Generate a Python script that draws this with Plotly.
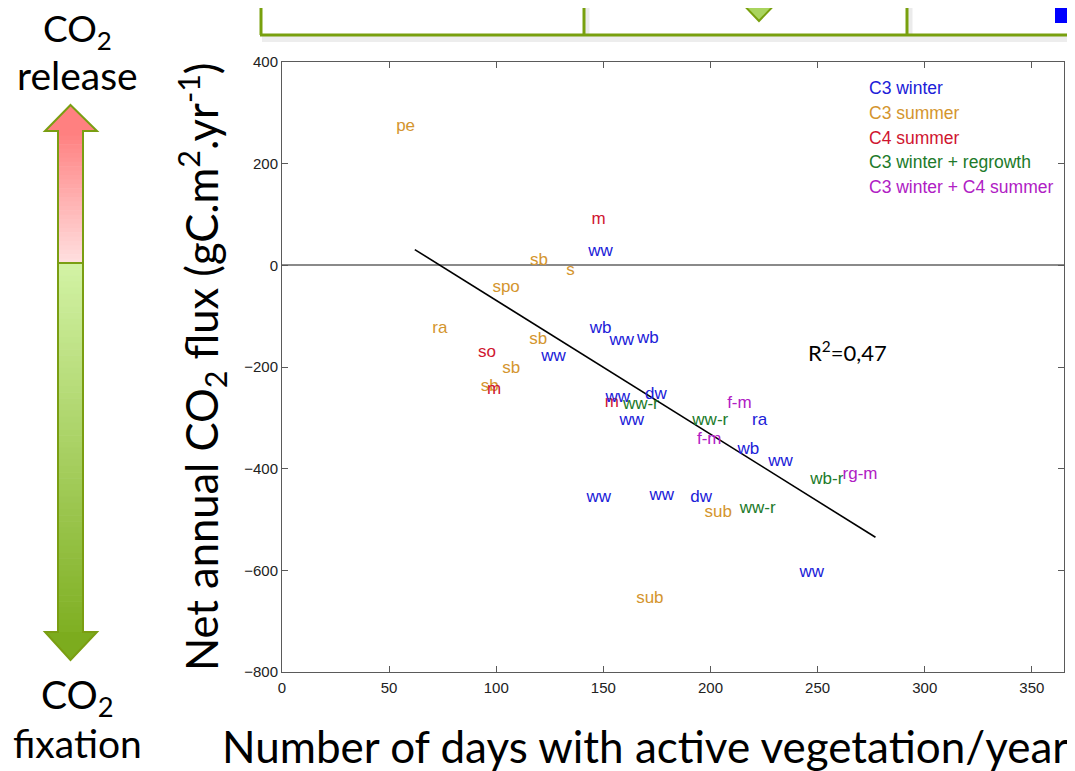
import plotly.graph_objects as go

# ---------------- data ----------------
c3w_x = [148.7, 148.7, 158.6, 170.8, 126.7, 156.7, 174.5, 163.3, 222.9, 217.7, 232.7, 147.8, 177.3, 195.6, 247.3]
c3w_y = [26, -124, -148, -144, -179, -260, -254, -305, -305, -362, -386, -458, -454, -458, -604]
c3w_lab = ["ww", "wb", "ww", "wb", "ww", "ww", "dw", "ww", "ra", "wb", "ww", "ww", "ww", "dw", "ww"]

c3s_x = [57.7, 120.0, 134.7, 104.6, 73.7, 119.6, 107.0, 97.0, 203.6, 171.7]
c3s_y = [273, 10, -10, -45, -124, -146, -203, -238, -486, -655]
c3s_lab = ["pe", "sb", "s", "spo", "ra", "sb", "sb", "sb", "sub", "sub"]

c4s_x = [147.8, 95.7, 99.0, 153.9]
c4s_y = [90, -171, -244, -271]
c4s_lab = ["m", "so", "m", "m"]

c3wr_x = [167.5, 199.9, 222.0, 254.3]
c3wr_y = [-275, -305, -478, -421]
c3wr_lab = ["ww-r", "ww-r", "ww-r", "wb-r"]

c3wc4_x = [213.5, 199.4, 269.8]
c3wc4_y = [-273, -344, -411]
c3wc4_lab = ["f-m", "f-m", "rg-m"]

reg_x = [62, 277]
reg_y = [31, -535]

x_ticks = [0, 50, 100, 150, 200, 250, 300, 350]
y_ticks = [400, 200, 0, -200, -400, -600, -800]

legend_names = ["C3 winter", "C3 summer", "C4 summer", "C3 winter + regrowth", "C3 winter + C4 summer"]

# ---------------- styles ----------------
COL_W = "#2020D8"
COL_S = "#D4952E"
COL_C4 = "#CF1530"
COL_R = "#217A2A"
COL_M = "#B020C4"
legend_colors = [COL_W, COL_S, COL_C4, COL_R, COL_M]

OFF = 8  # page body margin
W, H = 1075, 771
L, R, T, B = 282, 1064, 62, 672   # plot area in screen pixels


def px(x):
    return (x - L) / (R - L)


def py(y):
    return (B - y) / (B - T)


TXT = dict(family="Liberation Sans, Arial, sans-serif", size=17)

fig = go.Figure()

groups = [
    (c3s_x, c3s_y, c3s_lab, COL_S, "C3 summer"),
    (c4s_x, c4s_y, c4s_lab, COL_C4, "C4 summer"),
    (c3w_x, c3w_y, c3w_lab, COL_W, "C3 winter"),
    (c3wr_x, c3wr_y, c3wr_lab, COL_R, "C3 winter + regrowth"),
    (c3wc4_x, c3wc4_y, c3wc4_lab, COL_M, "C3 winter + C4 summer"),
]

fig.add_trace(go.Scatter(x=reg_x, y=reg_y, mode="lines",
                         line=dict(color="black", width=1.6), showlegend=False, hoverinfo="skip"))

for gx, gy, gl, col, name in groups:
    fig.add_trace(go.Scatter(x=gx, y=gy, text=gl, mode="text", name=name,
                             textposition="middle center",
                             textfont=dict(color=col, **TXT), showlegend=False))

shapes = []
annotations = []

# ---- top decoration (cut off boxes) ----
OLIVE = "#78A00E"
shapes.append(dict(type="line", xref="paper", yref="paper", x0=px(262), x1=px(1080), y0=py(39), y1=py(39),
                   line=dict(color="rgba(0,0,0,0.07)", width=6)))
shapes.append(dict(type="line", xref="paper", yref="paper", x0=px(261), x1=px(261), y0=py(-5), y1=py(35),
                   line=dict(color=OLIVE, width=3)))
for dx in [584, 907]:
    shapes.append(dict(type="line", xref="paper", yref="paper", x0=px(dx + 3), x1=px(dx + 3), y0=py(-5), y1=py(36),
                       line=dict(color="rgba(0,0,0,0.08)", width=5)))
    shapes.append(dict(type="line", xref="paper", yref="paper", x0=px(dx), x1=px(dx), y0=py(-5), y1=py(35),
                       line=dict(color=OLIVE, width=3)))
shapes.append(dict(type="line", xref="paper", yref="paper", x0=px(260), x1=px(1080), y0=py(35), y1=py(35),
                   line=dict(color=OLIVE, width=3)))
tri = "M %f %f L %f %f L %f %f Z" % (px(736), py(-3), px(782), py(-3), px(759), py(21))
shapes.append(dict(type="path", xref="paper", yref="paper", path=tri, fillcolor="#A9D45E",
                   line=dict(color=OLIVE, width=2)))
shapes.append(dict(type="rect", xref="paper", yref="paper", x0=px(1055), x1=px(1080), y0=py(-2), y1=py(23),
                   fillcolor="#0000FF", line=dict(width=0)))


# ---- left double arrow with gradients ----
def lerp(c1, c2, t):
    return "rgb(%d,%d,%d)" % tuple(round(a + (b - a) * t) for a, b in zip(c1, c2))


x_l, x_r = 58, 83
top_head, split, bot_head = 131, 263, 632
n_p = 30
for i in range(n_p):
    y0 = top_head + (split - top_head) * i / n_p
    y1 = top_head + (split - top_head) * (i + 1) / n_p + 0.6
    shapes.append(dict(type="rect", xref="paper", yref="paper", x0=px(x_l), x1=px(x_r), y0=py(y0), y1=py(y1),
                       fillcolor=lerp((255, 128, 128), (255, 222, 222), i / (n_p - 1)), line=dict(width=0)))
n_g = 60
for i in range(n_g):
    y0 = split + (bot_head - split) * i / n_g
    y1 = split + (bot_head - split) * (i + 1) / n_g + 0.6
    shapes.append(dict(type="rect", xref="paper", yref="paper", x0=px(x_l), x1=px(x_r), y0=py(y0), y1=py(y1),
                       fillcolor=lerp((210, 242, 164), (128, 176, 36), i / (n_g - 1)), line=dict(width=0)))
head_top = "M %f %f L %f %f L %f %f Z" % (px(45), py(top_head), px(97), py(top_head), px(70.5), py(105))
shapes.append(dict(type="path", xref="paper", yref="paper", path=head_top, fillcolor="rgb(255,128,128)",
                   line=dict(width=0)))
head_bot = "M %f %f L %f %f L %f %f Z" % (px(45), py(bot_head), px(97), py(bot_head), px(70.5), py(660))
shapes.append(dict(type="path", xref="paper", yref="paper", path=head_bot, fillcolor="rgb(124,172,30)",
                   line=dict(width=0)))
outline = ("M {a} {b} L {c} {d} L {e} {d} L {e} {f} L {c} {f} L {a} {g} L {h} {f} L {i} {f} L {i} {d} L {h} {d} Z"
           .format(a=px(70.5), b=py(105), c=px(97), d=py(top_head), e=px(x_r), f=py(bot_head),
                   g=py(660), h=px(45), i=px(x_l)))
shapes.append(dict(type="path", xref="paper", yref="paper", path=outline, line=dict(color="#7A9E12", width=2)))
shapes.append(dict(type="line", xref="paper", yref="paper", x0=px(x_l), x1=px(x_r), y0=py(split), y1=py(split),
                   line=dict(color="#7A9E12", width=2)))

BIG = "Lato, Calibri, sans-serif"
for txt, yy, sz in [("CO<sub>2</sub>", 31, 37), ("release", 75, 39), ("CO<sub>2</sub>", 697, 39), ("fixation", 743, 39)]:
    annotations.append(dict(text=txt, xref="paper", yref="paper", x=px(77), y=py(yy), showarrow=False,
                            xanchor="center", yanchor="middle", font=dict(family=BIG, size=sz, color="black")))

annotations.append(dict(text="Net annual CO<sub>2</sub> flux (gC.m<sup>2</sup>.yr<sup>-1</sup>)",
                        xref="paper", yref="paper", x=px(201), y=py(367), showarrow=False, textangle=-90,
                        xanchor="center", yanchor="middle", font=dict(family=BIG, size=43.5, color="black")))
annotations.append(dict(text="Number of days with active vegetation/year",
                        xref="paper", yref="paper", x=px(645), y=py(746), showarrow=False,
                        xanchor="center", yanchor="middle", font=dict(family=BIG, size=44, color="black")))

# legend as coloured text
for k, (nm, col) in enumerate(zip(legend_names, legend_colors)):
    annotations.append(dict(text=nm, xref="paper", yref="paper", x=px(867), y=py(88 + 24.8 * k),
                            showarrow=False, xanchor="left", yanchor="middle",
                            font=dict(family="Liberation Sans, Arial, sans-serif", size=17.5, color=col)))

annotations.append(dict(text="R<sup>2</sup>=0,47", xref="paper", yref="paper", x=px(847), y=py(351),
                        showarrow=False, xanchor="center", yanchor="middle",
                        font=dict(family=BIG, size=22, color="black")))

axis_common = dict(showline=True, linecolor="#5a5a5a", linewidth=1, mirror="ticks", ticks="inside",
                   ticklen=6, tickcolor="#5a5a5a", showgrid=False,
                   tickfont=dict(family="Liberation Sans, Arial, sans-serif", size=15, color="#222"))

fig.update_layout(
    width=W - OFF, height=H - OFF,
    margin=dict(l=L - OFF, r=W - R, t=T - OFF, b=H - B),
    paper_bgcolor="white", plot_bgcolor="white",
    showlegend=False,
    xaxis=dict(range=[0, 365], tickvals=x_ticks, zeroline=False, ticklabelstandoff=2, **axis_common),
    yaxis=dict(range=[-800, 400], tickvals=y_ticks, zeroline=True, zerolinecolor="#8a8a8a",
               zerolinewidth=1.5, **axis_common),
    shapes=shapes,
    annotations=annotations,
)

fig.write_html("out.html")
